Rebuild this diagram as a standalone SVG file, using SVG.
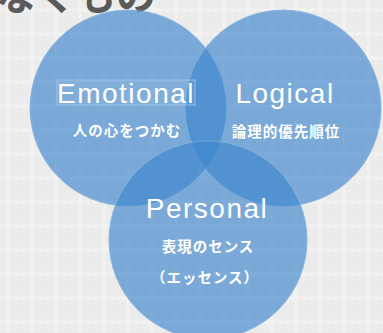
<svg xmlns="http://www.w3.org/2000/svg" width="383" height="333" viewBox="0 0 383 333">
<defs>
<pattern id="grid" width="24" height="24" patternUnits="userSpaceOnUse">
<rect width="24" height="24" fill="#ececec"/>
<path d="M8 0V24M0 10H24" stroke="#f2f2f2" stroke-width="3"/>
<path d="M19 0V24M0 20H24" stroke="#e8e8e8" stroke-width="1"/>
</pattern>
<style>
.c{fill:#3d86cd;fill-opacity:0.65;stroke:#7fb2e0;stroke-width:1;stroke-opacity:0.8}
.en{font-family:"Liberation Sans",Arial,sans-serif;fill:#ffffff;font-size:28px;letter-spacing:1.5px;text-anchor:middle}
.jp{font-family:"Noto Sans CJK JP","Noto Sans",sans-serif;fill:#ffffff;font-size:14.5px;font-weight:bold;letter-spacing:1px;text-anchor:middle}
</style>
</defs>
<rect width="383" height="333" fill="url(#grid)"/>
<text x="-4" y="10" font-family="Noto Sans CJK JP,sans-serif" font-weight="bold" font-size="40" fill="#5a5a5a">なくもの</text>
<g id="emotional">
<circle class="c" cx="128" cy="108" r="98"/>
</g>
<g id="logical">
<circle class="c" cx="283" cy="108" r="98"/>
</g>
<g id="personal">
<circle class="c" cx="208" cy="240" r="99"/>
</g>
<g id="connectors"/>
<g id="labels">
<rect x="57" y="80" width="138" height="25" fill="#ffffff" fill-opacity="0.06" stroke="#a9c9ea" stroke-width="0.8"/>
<text class="en" x="126" y="103">Emotional</text>
<text class="jp" x="127" y="136">人の心をつかむ</text>
<text class="en" x="285" y="103">Logical</text>
<text class="jp" x="286" y="137">論理的優先順位</text>
<text class="en" x="207" y="218">Personal</text>
<text class="jp" x="208" y="252">表現のセンス</text>
<text class="jp" x="205" y="283">（エッセンス）</text>
</g>
</svg>
